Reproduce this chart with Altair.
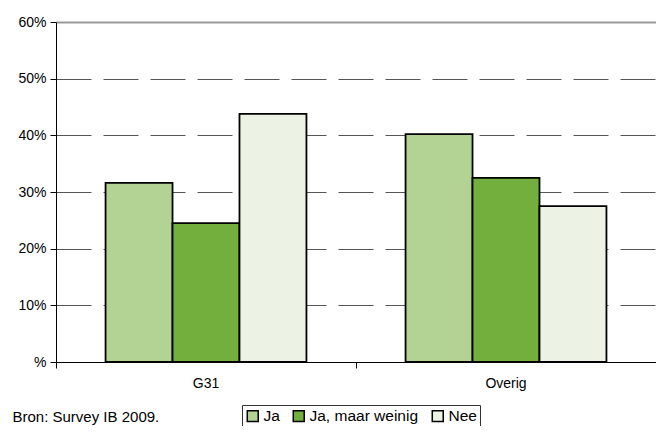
import altair as alt
import pandas as pd

categories = ["G31", "Overig"]
series = ["Ja", "Ja, maar weinig", "Nee"]
values_g31 = [31.6, 24.5, 43.8]
values_overig = [40.2, 32.5, 27.5]
colors = ["#b3d394", "#73af3c", "#ecf3e4"]
y_ticks = [0, 10, 20, 30, 40, 50, 60]
source = "Bron: Survey IB 2009."

rows = []
for cat, vals in zip(categories, [values_g31, values_overig]):
    for s, v in zip(series, vals):
        rows.append({"cat": cat, "serie": s, "waarde": v})
df = pd.DataFrame(rows)

font = "Liberation Sans"

bars = alt.Chart(df).mark_bar(stroke="black", strokeWidth=1.8).encode(
    x=alt.X("cat:N", sort=categories, title=source,
            scale=alt.Scale(paddingInner=0, paddingOuter=0),
            axis=alt.Axis(bandPosition=0, labelAngle=0,
                          domainColor="black", tickColor="black", tickSize=6,
                          labelFontSize=14, labelFont=font, labelColor="black",
                          labelPadding=8, grid=False,
                          titleX=-44, titleY=54, titleAlign="left", titleBaseline="middle",
                          titleFontSize=15, titleFont=font, titleFontWeight="normal",
                          titleColor="black")),
    xOffset=alt.XOffset("serie:N", sort=series,
                        scale=alt.Scale(paddingInner=0, paddingOuter=0.74)),
    y=alt.Y("waarde:Q", title=None,
            scale=alt.Scale(domain=[0, 60], nice=False),
            axis=alt.Axis(values=y_ticks,
                          labelExpr="datum.value == 0 ? '%' : datum.value + '%'",
                          domainColor="black", tickColor="black", tickSize=6,
                          labelFontSize=14, labelFont=font, labelColor="black",
                          labelPadding=4,
                          grid=True,
                          gridColor=alt.condition("datum.value >= 60", alt.value("#999999"), alt.value("#555555")),
                          gridWidth=alt.condition("datum.value >= 60", alt.value(2), alt.value(1.2)),
                          gridDash=alt.condition("datum.value >= 60", alt.value([1, 0]), alt.value([35, 12])))),
    color=alt.Color("serie:N", sort=series,
                    scale=alt.Scale(domain=series, range=colors),
                    legend=alt.Legend(title=None, orient="none", direction="horizontal",
                                      legendX=186, legendY=383,
                                      symbolType="square", symbolSize=120,
                                      symbolStrokeColor="black", symbolStrokeWidth=1.5,
                                      labelFontSize=15.5, labelFont=font, labelColor="black",
                                      labelOffset=3, columnPadding=10,
                                      strokeColor="#333333", padding=3)),
)

chart = bars.properties(
    width=600, height=340,
    autosize=alt.AutoSizeParams(type="none"),
    padding={"left": 48, "top": 14, "right": 0, "bottom": 64},
).configure_view(stroke=None)

chart.save("out.html", embed_options={"renderer": "svg", "actions": False})
